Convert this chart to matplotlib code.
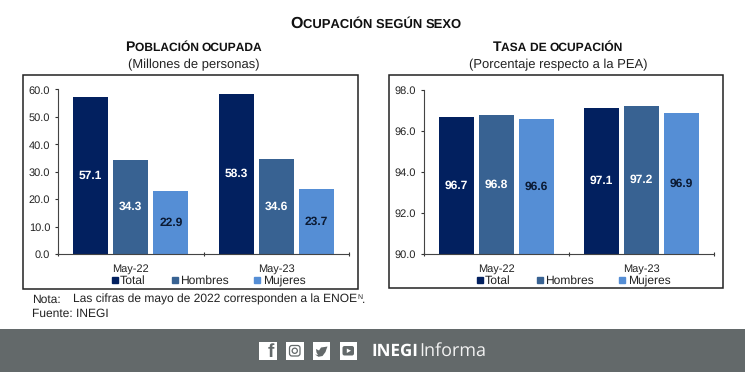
import matplotlib
matplotlib.use("Agg")
import numpy as np
import matplotlib.pyplot as plt
from matplotlib.lines import Line2D
from matplotlib.patches import FancyBboxPatch, Polygon, Rectangle, Circle

plt.rcParams['font.family'] = ['Liberation Sans', 'DejaVu Sans']
plt.rcParams['text.hinting'] = 'none'
plt.rcParams['text.hinting_factor'] = 1

W, H = 745, 372

periods = ['May-22', 'May-23']
series = ['Total', 'Hombres', 'Mujeres']
colors = ['#02205f', '#386292', '#558ed5']
label_colors = ['white', 'white', '#0b1a33']

poblacion_total = [57.1, 58.3]
poblacion_hombres = [34.3, 34.6]
poblacion_mujeres = [22.9, 23.7]

tasa_total = [96.7, 97.1]
tasa_hombres = [96.8, 97.2]
tasa_mujeres = [96.6, 96.9]

fig = plt.figure(figsize=(W / 100, H / 100), dpi=100, facecolor='white')


def fx(px):
    return px / W


def fy(py):
    return 1 - py / H


def smallcaps(text, cx, py, big, small):
    # words in fake small caps, first letter big
    r = fig.canvas.get_renderer()
    runs = []
    for i, word in enumerate(text.split(' ')):
        if i == 0:
            runs.append((word[0], big))
            runs.append((word[1:].upper() + ' ', small))
        else:
            runs.append((word.upper() + ' ', small))
    runs[-1] = (runs[-1][0].rstrip(), small)
    pieces = []
    total = 0
    for s, size in runs:
        t = fig.text(0, fy(py), s.replace(' ', '\u00a0'), fontsize=size, fontweight='bold',
                     color='#111111', va='baseline', ha='left')
        w = t.get_window_extent(r).width
        pieces.append((t, w))
        total += w
    x = cx - total / 2
    for t, w in pieces:
        t.set_x(fx(x))
        x += w


def panel(box, axpos, vals, ylim, yticks, title, subtitle, title_cx, legend_dx):
    x0, y0, x1, y1 = box
    fig.add_artist(Rectangle((fx(x0), fy(y1)), fx(x1 - x0), (y1 - y0) / H, transform=fig.transFigure,
                             facecolor='white', edgecolor='#222222', linewidth=1.1, zorder=-1))
    ax0, ay0, ax1, ay1 = axpos
    ax = fig.add_axes([fx(ax0), fy(ay1), fx(ax1 - ax0), (ay1 - ay0) / H])
    ax.patch.set_alpha(0)
    step = 0.275
    width = 0.242
    centers = np.arange(len(periods)) + 0.5
    for i, name in enumerate(series):
        pos = centers + (i - 1) * step
        bars = ax.bar(pos, np.array(vals[i]) - ylim[0], width, bottom=ylim[0], color=colors[i], label=name)
        for b, v in zip(bars, vals[i]):
            ax.text(b.get_x() + b.get_width() / 2, (ylim[0] + v) / 2, f'{v:.1f}', ha='center', va='center',
                    fontsize=8.8, fontweight='bold', color=label_colors[i])
    ax.set_xlim(0, len(periods))
    ax.set_ylim(*ylim)
    ax.set_yticks(yticks)
    ax.set_yticklabels([f'{v:.1f}' for v in yticks], fontsize=8, color='#222222')
    ax.set_xticks([0, 1, 2])
    ax.set_xticklabels([])
    ax.set_xticks(centers, minor=True)
    ax.set_xticklabels(periods, minor=True, fontsize=7.8, color='#222222')
    ax.tick_params(axis='x', which='minor', length=0, pad=7)
    ax.tick_params(axis='x', which='major', length=2.5, width=0.8, direction='inout', color='#333333')
    ax.tick_params(axis='y', length=2.5, width=0.8, pad=3, color='#333333')
    for s in ['top', 'right']:
        ax.spines[s].set_visible(False)
    for s in ['left', 'bottom']:
        ax.spines[s].set_color('#444444')
        ax.spines[s].set_linewidth(0.8)
    # legend by hand, the built in one drops the text with a descender out of line
    for name, c, mx, tx in zip(series, colors, [114.5, 175, 257], [120, 180, 263]):
        fig.add_artist(Line2D([fx(mx + legend_dx)], [fy(280)], marker='s', linestyle='none', markersize=4.3,
                              color=c, transform=fig.transFigure))
        fig.text(fx(tx + legend_dx), fy(284.1), name, fontsize=8.5, va='baseline', color='#222222')
    smallcaps(title, title_cx, 51, 10.4, 8.6)
    fig.text(fx(title_cx), fy(65), subtitle, fontsize=9.6, ha='center', va='center', color='#222222')
    return ax


panel((23, 75, 358, 289), (58, 89.5, 349, 254.3),
      [poblacion_total, poblacion_hombres, poblacion_mujeres], (0, 60),
      [0, 10, 20, 30, 40, 50, 60], 'Población ocupada', '(Millones de personas)', 194, 0)
panel((389, 75, 723, 288), (424, 90, 714, 254),
      [tasa_total, tasa_hombres, tasa_mujeres], (90, 98),
      [90, 92, 94, 96, 98], 'Tasa de ocupación', '(Porcentaje respecto a la PEA)', 558, 365)

smallcaps('Ocupación según sexo', 376, 28, 11.7, 9.6)

fig.text(fx(32), fy(303), 'Nota:', fontsize=8.4, va='baseline', color='#222222')
note = fig.text(fx(73), fy(303), 'Las cifras de mayo de 2022 corresponden a la ENOE', fontsize=8.3,
                va='baseline', color='#222222')
note_end = 73 + note.get_window_extent(fig.canvas.get_renderer()).width
fig.text(fx(note_end + 0.5), fy(299), 'N', fontsize=5, va='baseline', color='#222222')
fig.text(fx(note_end + 4.5), fy(303), '.', fontsize=8.3, va='baseline', color='#222222')
fig.text(fx(32), fy(317), 'Fuente: INEGI', fontsize=8.4, va='baseline', color='#222222')

# footer band
footer = '#63696a'
fig.add_artist(Rectangle((0, 0), 1, (H - 329) / H, transform=fig.transFigure, facecolor=footer, edgecolor='none',
                         zorder=-1))

over = fig.add_axes([0, 0, 1, 1])
over.set_xlim(0, W)
over.set_ylim(H, 0)
over.axis('off')
over.patch.set_alpha(0)
for x in [259, 286, 312.5, 339.5]:
    over.add_patch(Rectangle((x, 342), 17.5, 17.5, facecolor='white', edgecolor='none'))
over.text(270.5, 352, 'f', fontsize=14, fontweight='bold', color=footer, ha='center', va='center')
over.add_patch(FancyBboxPatch((289.5, 345.5), 10.5, 10.5, boxstyle='round,pad=0,rounding_size=2.5',
                              facecolor='none', edgecolor=footer, linewidth=0.9))
over.add_patch(Circle((294.75, 350.75), 2.6, facecolor='none', edgecolor=footer, linewidth=0.9))
over.add_patch(Polygon([(315, 354.5), (318, 355), (316.5, 352.5), (316, 349), (319, 350.5), (321, 347.5),
                        (324.5, 347), (327.5, 346.5), (326.5, 349), (325.5, 352), (322.5, 356), (318.5, 356.8)],
                       closed=True, facecolor=footer, edgecolor='none'))
over.add_patch(FancyBboxPatch((342.5, 346), 11.5, 9.5, boxstyle='round,pad=0,rounding_size=2',
                              facecolor=footer, edgecolor='none'))
over.add_patch(Polygon([(346.8, 348.5), (346.8, 353), (351, 350.7)], closed=True, facecolor='white', edgecolor='none'))
over.text(371, 351, 'INEGI', fontsize=12.5, fontweight='bold', color='white', ha='left', va='center',
          family=['Open Sans', 'DejaVu Sans'])
over.text(419, 351, 'Informa', fontsize=13, color='#f2f2f2', ha='left', va='center', family=['Open Sans', 'DejaVu Sans'])

fig.savefig('out.png', dpi=100, facecolor='white')
